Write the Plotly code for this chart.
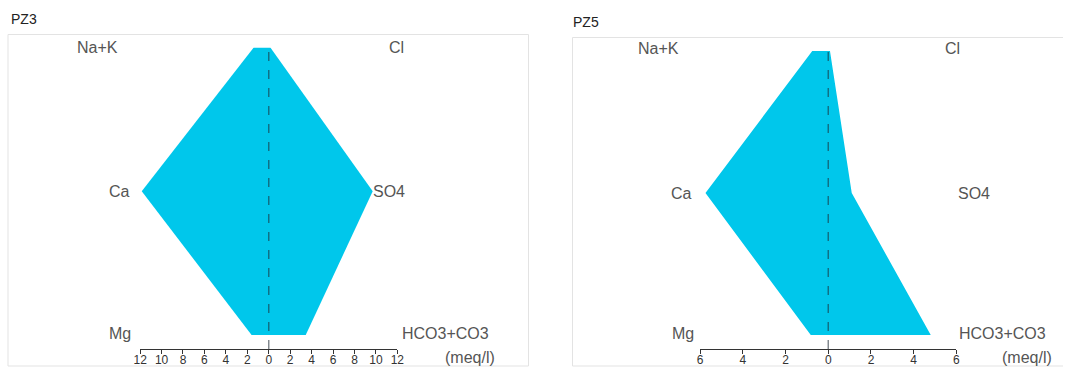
import plotly.graph_objects as go

W, H = 1070, 367

# ---- data (meq/l) ----
ions_left = ["Na+K", "Ca", "Mg"]
ions_right = ["Cl", "SO4", "HCO3+CO3"]
pz3_cations = [1.4, 11.85, 1.6]    # Na+K, Ca, Mg
pz3_anions = [0.15, 9.7, 3.45]     # Cl, SO4, HCO3+CO3
pz5_cations = [0.75, 5.75, 0.82]
pz5_anions = [0.08, 1.1, 4.8]
titles = ["PZ3", "PZ5"]
left_ticks = [-12, -10, -8, -6, -4, -2, 0, 2, 4, 6, 8, 10, 12]
right_ticks = [-6, -4, -2, 0, 2, 4, 6]
unit_label = "(meq/l)"

FILL = "#00c7eb"
FONT = "Arial"

# horizontal placement correction observed in the rendering pipeline
OFF, SC = 7.5, 0.986

def px_x(p):
    return ((p - OFF) / SC) / W

def px_y(p):
    return 1 - p / H

fig = go.Figure()

panels = [
    dict(cat=pz3_cations, an=pz3_anions, xa="x", ya="y", dom=(140.5, 397.5), rng=12,
         ticks=left_ticks, ytop=47.5, ybot=335, axis=349,
         box=(8.5, 528.5, 34.5, True), title=(9, 19),
         lab_left=[(75, 48), (107, 191), (107, 333)],
         lab_right=[(387, 48), (371, 191), (400, 333)], unit=(443, 357)),
    dict(cat=pz5_cations, an=pz5_anions, xa="x2", ya="y2", dom=(700, 956), rng=6,
         ticks=right_ticks, ytop=51, ybot=335, axis=349,
         box=(572.5, 1080, 37.5, False), title=(571, 22),
         lab_left=[(636, 49), (669, 193), (670, 333)],
         lab_right=[(943, 49), (956, 193), (957, 333)], unit=(1000, 357)),
]

shapes = []
annotations = []
for i, p in enumerate(panels):
    xs = [-p["cat"][0], p["an"][0], p["an"][1], p["an"][2], -p["cat"][2], -p["cat"][1], -p["cat"][0]]
    ys = [2, 2, 1, 0, 0, 1, 2]
    fig.add_trace(go.Scatter(x=xs, y=ys, xaxis=p["xa"], yaxis=p["ya"], mode="lines",
                             fill="toself", fillcolor=FILL, line=dict(width=0, color=FILL),
                             hoverinfo="skip", showlegend=False))
    unit = (p["ybot"] - p["ytop"]) / 2
    ymin = -(p["axis"] - p["ybot"]) / unit
    axname = "xaxis" if i == 0 else "xaxis2"
    yname = "yaxis" if i == 0 else "yaxis2"
    fig.layout[axname] = dict(domain=[px_x(p["dom"][0]), min(1.0, px_x(p["dom"][1]))],
                              range=[-p["rng"], p["rng"]], anchor=p["ya"],
                              tickvals=p["ticks"], ticktext=[str(abs(t)) for t in p["ticks"]],
                              showline=True, linecolor="#333", linewidth=1,
                              ticks="outside", ticklen=4, tickcolor="#333",
                              ticklabelstandoff=-4,
                              showgrid=False, zeroline=False, fixedrange=True,
                              tickfont=dict(family=FONT, size=12, color="#333"))
    fig.layout[yname] = dict(domain=[px_y(p["axis"]), px_y(p["ytop"])],
                             range=[ymin, 2], anchor=p["xa"], visible=False,
                             showgrid=False, zeroline=False, fixedrange=True)
    # dashed zero line
    shapes.append(dict(type="line", xref=p["xa"], yref=p["ya"], x0=0, x1=0, y0=ymin, y1=2,
                       line=dict(color="rgba(30,40,50,0.55)", width=1.5, dash="dash"),
                       layer="above"))
    # panel box (right panel runs off the page edge: no right side)
    bx0, bx1, by, closed = p["box"]
    X0, X1, Y0, Y1 = max(0.0005, px_x(bx0)), min(1.0, px_x(bx1)), px_y(366), px_y(by)
    if closed:
        path = f"M{X0},{Y0} L{X0},{Y1} L{X1},{Y1} L{X1},{Y0} Z"
    else:
        path = f"M{X1},{Y0} L{X0},{Y0} L{X0},{Y1} L{X1},{Y1}"
    shapes.append(dict(type="path", xref="paper", yref="paper", path=path,
                       line=dict(color="#e3e3e3", width=1), layer="below"))
    # title
    annotations.append(dict(text=titles[i], xref="paper", yref="paper",
                            x=px_x(p["title"][0]), y=px_y(p["title"][1]),
                            xanchor="left", yanchor="middle", showarrow=False,
                            font=dict(family=FONT, size=14, color="#222")))
    for name, (lx, ly) in zip(ions_left, p["lab_left"]):
        annotations.append(dict(text=name, xref="paper", yref="paper", x=px_x(lx), y=px_y(ly),
                                xanchor="left", yanchor="middle", showarrow=False,
                                font=dict(family=FONT, size=16, color="#555")))
    for name, (lx, ly) in zip(ions_right, p["lab_right"]):
        annotations.append(dict(text=name, xref="paper", yref="paper", x=px_x(lx), y=px_y(ly),
                                xanchor="left", yanchor="middle", showarrow=False,
                                font=dict(family=FONT, size=16, color="#555")))
    annotations.append(dict(text=unit_label, xref="paper", yref="paper",
                            x=px_x(p["unit"][0]), y=px_y(p["unit"][1]),
                            xanchor="left", yanchor="middle", showarrow=False,
                            font=dict(family=FONT, size=16, color="#555")))

fig.update_layout(width=W, height=H, margin=dict(l=0, r=0, t=0, b=0, pad=0), autosize=False,
                  paper_bgcolor="white", plot_bgcolor="rgba(0,0,0,0)",
                  shapes=shapes, annotations=annotations, showlegend=False)

css_js = (
    "var s=document.createElement('style');"
    "s.textContent='html,body{margin:0!important;padding:0!important;overflow:hidden!important;}"
    ".plotly-graph-div{position:absolute!important;left:0!important;top:0!important;overflow:hidden!important;}';"
    "document.head.appendChild(s);"
)

fig.write_html("out.html", config={"responsive": False, "displayModeBar": False},
               post_script=css_js)
